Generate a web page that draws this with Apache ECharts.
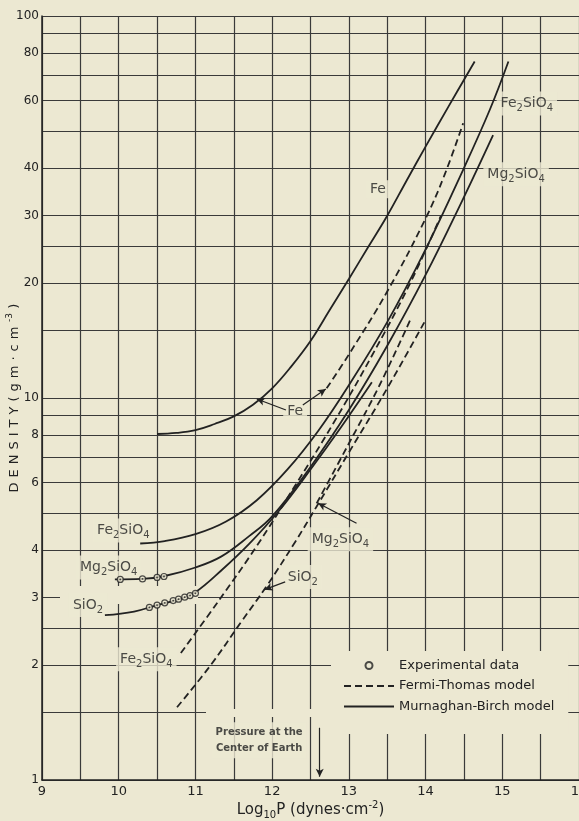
<!DOCTYPE html>
<html>
<head>
<meta charset="utf-8">
<script src="https://cdn.jsdelivr.net/npm/echarts@6/dist/echarts.min.js"></script>
<style>
  html, body { margin: 0; padding: 0; background: #ece8d2; }
  #chart { width: 579px; height: 821px; }
</style>
</head>
<body>
<div id="chart"></div>
<script>
// points are [log10 P, density]
// Murnaghan-Birch model (solid)
const feMB = [[10.5, 8.05], [10.75, 8.1], [11.0, 8.24], [11.25, 8.55], [11.5, 8.95], [11.75, 9.6], [12.0, 10.6], [12.25, 12.1], [12.5, 14.1], [12.75, 17.0], [13.0, 20.5], [13.25, 24.8], [13.5, 30], [13.75, 37], [14.0, 45.5], [14.3, 58], [14.64, 76]];
const fe2sio4MB = [[10.28, 4.16], [10.6, 4.22], [11.0, 4.4], [11.4, 4.75], [11.8, 5.4], [12.2, 6.5], [12.6, 8.2], [13.0, 10.8], [13.5, 15.8], [14.0, 24.5], [14.5, 40], [14.84, 57], [15.08, 76]];
const mg2sio4MB = [[9.95, 3.35], [10.3, 3.36], [10.6, 3.42], [11.0, 3.6], [11.34, 3.85], [11.7, 4.35], [12.0, 4.9], [12.5, 6.6], [13.0, 9.3], [13.5, 13.7], [14.0, 21], [14.45, 32], [14.88, 48.8]];
const sio2MB = [[9.82, 2.70], [10.2, 2.76], [10.5, 2.87], [10.8, 2.98], [11.0, 3.1], [11.34, 3.54], [11.7, 4.15], [12.1, 5.1], [12.5, 6.5], [12.9, 8.4], [13.3, 11]];

// Fermi-Thomas model (dashed)
const feFT = [[12.71, 10.6], [13.0, 13.0], [13.5, 19.0], [14.0, 29.5], [14.25, 38.5], [14.49, 52.4]];
const fe2sio4FT = [[10.81, 2.15], [11.3, 2.94], [11.8, 4.1], [12.3, 5.9], [12.8, 8.6], [13.3, 12.9], [13.8, 20], [14.2, 30]];
const mg2sio4FT = [[12.58, 5.3], [13.0, 7.6], [13.4, 10.8], [13.8, 16]];
const sio2FT = [[10.76, 1.55], [11.2, 2.0], [11.6, 2.6], [11.92, 3.2], [12.3, 4.2], [12.58, 5.2], [13.0, 7.2], [13.5, 10.6], [14.0, 16]];

// experimental data
const mg2sio4Exp = [[10.02, 3.35], [10.31, 3.36], [10.5, 3.39], [10.59, 3.41]];
const sio2Exp = [[10.4, 2.83], [10.5, 2.87], [10.6, 2.91], [10.71, 2.95], [10.78, 2.975], [10.86, 3.01], [10.93, 3.04], [11.0, 3.08]];

// axes
const xLabels = [9, 10, 11, 12, 13, 14, 15, 16];
const yLabels = [1, 2, 3, 4, 6, 8, 10, 20, 30, 40, 60, 80, 100];
const yGrid = [1, 1.5, 2, 2.5, 3, 4, 5, 6, 7, 8, 9, 10, 15, 20, 25, 30, 40, 50, 60, 70, 80, 90, 100];

// text on the plot
const noteTexts = [
    'Fe', '{t|Fe}{s|2}{t|SiO}{s|4}', '{t|Mg}{s|2}{t|SiO}{s|4}',
    'Fe', '{t|Fe}{s|2}{t|SiO}{s|4}', '{t|Mg}{s|2}{t|SiO}{s|4}', '{t|SiO}{s|2}',
    '{t|Mg}{s|2}{t|SiO}{s|4}', '{t|SiO}{s|2}', '{t|Fe}{s|2}{t|SiO}{s|4}',
    '{m|Pressure at the}\n{m|Center of Earth}'
];
const notePos = [
    [13.38, 35.2], [15.32, 59], [15.18, 38.5],
    [12.3, 9.25], [10.06, 4.5], [9.87, 3.6], [9.6, 2.87],
    [12.89, 4.27], [12.4, 3.4], [10.36, 2.07],
    [11.83, 1.27]
];
// arrows [from, to]
const arrows = [
    [[12.18, 9.3], [11.8, 9.94]],
    [[12.4, 9.59], [12.7, 10.56]],
    [[13.1, 4.7], [12.6, 5.3]],
    [[12.17, 3.3], [11.9, 3.15]],
    [[12.62, 1.37], [12.62, 1.02]]
];

const ink = '#222222';
const paper = '#ece8d2';
const font = 'DejaVu Sans';
const lg = pts => pts.map(([p, r]) => [p, Math.log10(r)]);

const rich = {
    t: { fontSize: 14, fontFamily: font, color: ink, lineHeight: 20 },
    s: { fontSize: 10, fontFamily: font, color: ink, lineHeight: 8, verticalAlign: 'bottom' },
    p: { fontSize: 10, fontFamily: font, color: ink, lineHeight: 8, verticalAlign: 'top' },
    m: { fontSize: 10, fontFamily: font, fontWeight: 'bold', color: ink, lineHeight: 16 },
    l: { fontSize: 13, fontFamily: font, color: ink, lineHeight: 20, padding: [0, 2.5] },
    q: { fontSize: 9, fontFamily: font, color: ink, lineHeight: 8, verticalAlign: 'top', padding: [0, 2] }
};
const xName = '{t|Log}{s|10}{t|P (dynes·cm}{p|-2}{t|)}';
const yName = 'DENSITY(gm·cm'.split('').map(c => '{l|' + c + '}').join('') + '{q|-3}{l|)}';

const solid = (data) => ({
    name: 'Murnaghan-Birch model', type: 'line', data: lg(data),
    symbol: 'none', smooth: 0.4, z: 3,
    itemStyle: { color: ink },
    lineStyle: { color: ink, width: 1.8, type: 'solid' }
});
const dashed = (data) => ({
    name: 'Fermi-Thomas model', type: 'line', data: lg(data),
    symbol: 'none', smooth: 0.4, z: 3,
    itemStyle: { color: ink },
    lineStyle: { color: ink, width: 1.8, type: [7, 4] }
});

const chart = echarts.init(document.getElementById('chart'));
chart.setOption({
    animation: false,
    backgroundColor: paper,
    grid: { left: 42, right: 0, top: 16, bottom: 41, containLabel: false, outerBoundsMode: 'none' },
    // gaps in the printed grid
    graphic: [
        { type: 'rect', z: 1, silent: true, shape: { x: 60, y: 586, width: 138, height: 18 }, style: { fill: paper } },
        { type: 'rect', z: 1, silent: true, shape: { x: 206, y: 709, width: 125, height: 8 }, style: { fill: paper } }
    ],
    legend: {
        orient: 'vertical', left: 331, top: 651,
        padding: [8, 14, 21, 12],
        backgroundColor: paper,
        itemWidth: 50, itemHeight: 7, itemGap: 7.5,
        data: [
            'Experimental data',
            { name: 'Fermi-Thomas model', itemStyle: { opacity: 0 } },
            { name: 'Murnaghan-Birch model', itemStyle: { opacity: 0 } }
        ],
        textStyle: { fontFamily: font, fontSize: 13, color: ink },
        selectedMode: false
    },
    xAxis: {
        type: 'value', min: 9, max: 16, interval: 0.5,
        name: xName,
        nameLocation: 'middle', nameGap: 20, nameMoveOverlap: false,
        nameTextStyle: { rich: Object.assign({}, rich, { t: Object.assign({}, rich.t, { fontSize: 15 }) }) },
        axisLine: { lineStyle: { color: ink, width: 1.5 } },
        axisTick: { show: false },
        axisLabel: { customValues: xLabels, fontFamily: font, fontSize: 13, color: ink, margin: 5 },
        splitLine: { show: true, lineStyle: { color: '#3a3a3a', width: 1.2 } }
    },
    yAxis: {
        type: 'value', min: 0, max: 2,
        name: yName,
        nameLocation: 'middle', nameGap: 17, nameRotate: 90, nameMoveOverlap: false,
        nameTextStyle: { rich },
        axisLine: { show: true, lineStyle: { color: ink, width: 1.5 } },
        axisTick: { show: false, customValues: yGrid.map(Math.log10) },
        axisLabel: {
            customValues: yLabels.map(Math.log10),
            formatter: v => String(Math.round(Math.pow(10, v))),
            fontFamily: font, fontSize: 12, color: ink, margin: 3
        },
        splitLine: { show: true, lineStyle: { color: '#3a3a3a', width: 1.2 } }
    },
    series: [
        solid(feMB), solid(fe2sio4MB), solid(mg2sio4MB), solid(sio2MB),
        dashed(feFT), dashed(fe2sio4FT), dashed(mg2sio4FT), dashed(sio2FT),
        {
            name: 'Experimental data', type: 'scatter', z: 5,
            data: lg(mg2sio4Exp.concat(sio2Exp)),
            symbol: 'circle', symbolSize: 6,
            itemStyle: { color: paper, borderColor: ink, borderWidth: 1.2 }
        },
        {
            name: 'dots', type: 'scatter', z: 6, silent: true,
            data: lg(mg2sio4Exp.concat(sio2Exp)),
            symbol: 'circle', symbolSize: 1.8,
            itemStyle: { color: ink }
        },
        {
            name: 'notes', type: 'scatter', z: 2, silent: true,
            symbolSize: 0,
            data: notePos.map((p, i) => ({
                value: [p[0], Math.log10(p[1])],
                label: { formatter: noteTexts[i] }
            })),
            label: {
                show: true, position: 'inside', rich, color: ink,
                fontFamily: font, fontSize: 14,
                backgroundColor: paper, padding: [2, 4]
            },
            markLine: {
                silent: true, animation: false,
                symbol: ['none', 'arrow'], symbolSize: [6, 8],
                label: { show: false },
                lineStyle: { color: ink, width: 1.2, type: 'solid' },
                data: arrows.map(([a, b]) => [
                    { coord: [a[0], Math.log10(a[1])] },
                    { coord: [b[0], Math.log10(b[1])] }
                ])
            }
        }
    ]
});
</script>
</body>
</html>
